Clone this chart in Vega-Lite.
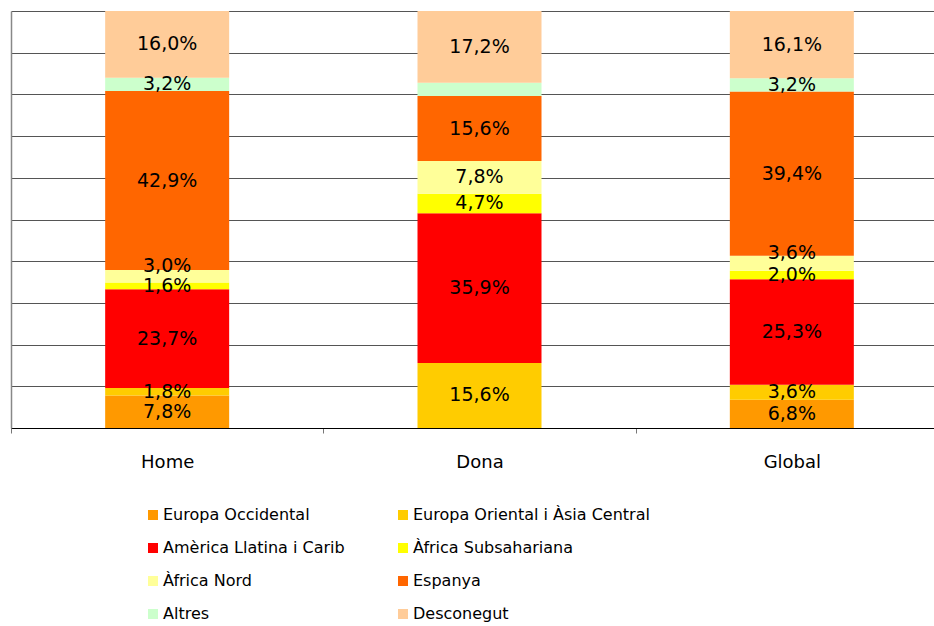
{
  "$schema": "https://vega.github.io/schema/vega-lite/v6.json",
  "width": 937,
  "height": 417,
  "padding": {"left": 10, "top": 11, "right": 0, "bottom": 0},
  "background": "white",
  "config": {"view": {"stroke": null}, "font": "DejaVu Sans"},
  "data": {"values": [
    {"g": "Home", "c": "Europa Occidental", "k": 1, "v": 7.8, "lab": "7,8%"},
    {"g": "Home", "c": "Europa Oriental i Àsia Central", "k": 2, "v": 1.8, "lab": "1,8%"},
    {"g": "Home", "c": "Amèrica Llatina i Carib", "k": 3, "v": 23.7, "lab": "23,7%"},
    {"g": "Home", "c": "Àfrica Subsahariana", "k": 4, "v": 1.6, "lab": "1,6%"},
    {"g": "Home", "c": "Àfrica Nord", "k": 5, "v": 3.0, "lab": "3,0%"},
    {"g": "Home", "c": "Espanya", "k": 6, "v": 42.9, "lab": "42,9%"},
    {"g": "Home", "c": "Altres", "k": 7, "v": 3.2, "lab": "3,2%"},
    {"g": "Home", "c": "Desconegut", "k": 8, "v": 16.0, "lab": "16,0%"},
    {"g": "Dona", "c": "Europa Oriental i Àsia Central", "k": 2, "v": 15.6, "lab": "15,6%"},
    {"g": "Dona", "c": "Amèrica Llatina i Carib", "k": 3, "v": 35.9, "lab": "35,9%"},
    {"g": "Dona", "c": "Àfrica Subsahariana", "k": 4, "v": 4.7, "lab": "4,7%"},
    {"g": "Dona", "c": "Àfrica Nord", "k": 5, "v": 7.8, "lab": "7,8%"},
    {"g": "Dona", "c": "Espanya", "k": 6, "v": 15.6, "lab": "15,6%"},
    {"g": "Dona", "c": "Altres", "k": 7, "v": 3.2, "lab": ""},
    {"g": "Dona", "c": "Desconegut", "k": 8, "v": 17.2, "lab": "17,2%"},
    {"g": "Global", "c": "Europa Occidental", "k": 1, "v": 6.8, "lab": "6,8%"},
    {"g": "Global", "c": "Europa Oriental i Àsia Central", "k": 2, "v": 3.6, "lab": "3,6%"},
    {"g": "Global", "c": "Amèrica Llatina i Carib", "k": 3, "v": 25.3, "lab": "25,3%"},
    {"g": "Global", "c": "Àfrica Subsahariana", "k": 4, "v": 2.0, "lab": "2,0%"},
    {"g": "Global", "c": "Àfrica Nord", "k": 5, "v": 3.6, "lab": "3,6%"},
    {"g": "Global", "c": "Espanya", "k": 6, "v": 39.4, "lab": "39,4%"},
    {"g": "Global", "c": "Altres", "k": 7, "v": 3.2, "lab": "3,2%"},
    {"g": "Global", "c": "Desconegut", "k": 8, "v": 16.1, "lab": "16,1%"}
  ]},
  "transform": [
    {"stack": "v", "groupby": ["g"], "sort": [{"field": "k", "order": "ascending"}], "as": ["v0", "v1"]},
    {"calculate": "(datum.v0 + datum.v1) / 2", "as": "vm"}
  ],
  "encoding": {
    "x": {
      "field": "g", "type": "nominal", "sort": ["Home", "Dona", "Global"],
      "scale": {"paddingInner": 0, "paddingOuter": 0},
      "axis": {
        "title": null, "labelAngle": 0, "labelFontSize": 18, "labelColor": "#000",
        "labelPadding": 20, "tickSize": 5, "tickBand": "extent", "tickColor": "#777",
        "domainColor": "#000", "labelFont": "DejaVu Sans"
      }
    }
  },
  "layer": [
    {
      "mark": {"type": "bar", "width": 124},
      "encoding": {
        "y": {
          "field": "v0", "type": "quantitative",
          "scale": {"domain": [0, 100], "nice": false},
          "axis": {
            "title": null, "labels": false, "ticks": false, "values": [0,10,20,30,40,50,60,70,80,90,100],
            "grid": true, "gridColor": "#555", "gridWidth": 1, "domainColor": "#888", "domainWidth": 1.5
          }
        },
        "y2": {"field": "v1"},
        "color": {
          "field": "c", "type": "nominal",
          "scale": {
            "domain": ["Europa Occidental", "Europa Oriental i Àsia Central", "Amèrica Llatina i Carib", "Àfrica Subsahariana", "Àfrica Nord", "Espanya", "Altres", "Desconegut"],
            "range": ["#FF9900", "#FFCC00", "#FF0000", "#FFFF00", "#FFFF99", "#FF6600", "#CCFFCC", "#FFCC99"]
          },
          "legend": {
            "title": null, "orient": "none", "legendX": 134, "legendY": 496,
            "columns": 2, "direction": "horizontal", "columnPadding": 50, "rowPadding": 17,
            "symbolType": "square", "symbolSize": 100, "symbolStrokeWidth": 0,
            "labelFontSize": 16, "labelColor": "#000", "labelLimit": 400, "labelOffset": 2,
            "padding": 0, "labelFont": "DejaVu Sans"
          }
        }
      }
    },
    {
      "transform": [{"filter": "!(datum.c == 'Àfrica Nord' && datum.g != 'Dona')"}],
      "mark": {"type": "text", "fontSize": 19, "color": "#000", "baseline": "middle", "font": "DejaVu Sans"},
      "encoding": {
        "y": {"field": "vm", "type": "quantitative", "scale": {"domain": [0, 100], "nice": false}},
        "text": {"field": "lab"}
      }
    },
    {
      "transform": [{"filter": "datum.c == 'Àfrica Nord' && datum.g != 'Dona'"}],
      "mark": {"type": "text", "fontSize": 19, "color": "#000", "baseline": "middle", "font": "DejaVu Sans", "dy": -10},
      "encoding": {
        "y": {"field": "vm", "type": "quantitative", "scale": {"domain": [0, 100], "nice": false}},
        "text": {"field": "lab"}
      }
    }
  ]
}
